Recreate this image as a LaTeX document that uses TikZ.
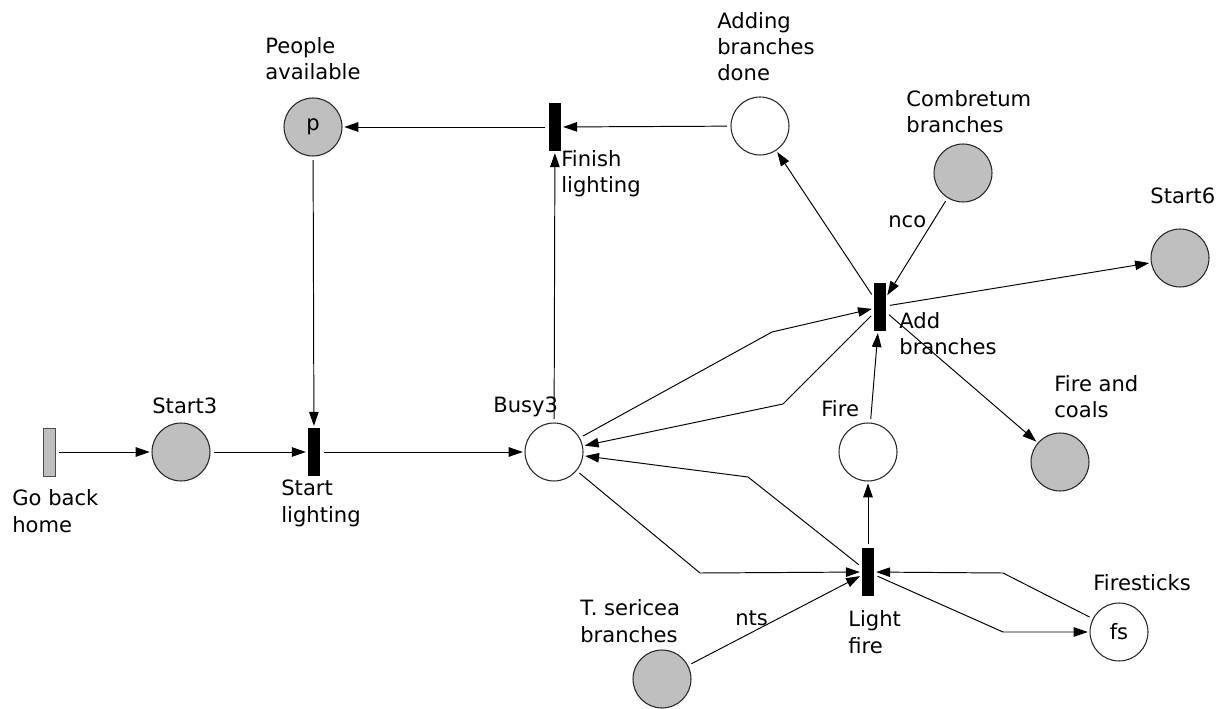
\documentclass[tikz,border=0pt]{standalone}
\usepackage{fontspec}
\setmainfont{DejaVu Sans}
\usetikzlibrary{arrows.meta,positioning}

\begin{document}
\begin{tikzpicture}[x=0.02cm,y=-0.02cm,
  font=\fontsize{12}{15}\selectfont,
  >={Triangle[length=2.8mm,width=1.9mm]},
  place/.style={circle,draw=black!85,line width=0.6pt,minimum size=1.16cm,inner sep=0pt},
  marked/.style={place,fill=black!25},
  trans/.style={rectangle,fill=black,minimum width=0.24cm,minimum height=0.96cm,inner sep=0pt},
  lbl/.style={anchor=base west,align=left,inner sep=0pt},
  arc/.style={->,line width=0.55pt,shorten <=2pt,shorten >=1pt}]
                \useasboundingbox (0,0) rectangle (1227,709);
                % places
                \node[marked] (start3) at (181,452) {};
                \node[marked] (ppl) at (313,127) {p};
                \node[place] (busy) at (554,452) {};
                \node[place] (done) at (760,126) {};
                \node[marked] (combr) at (963,173) {};
                \node[marked] (start6) at (1180,258) {};
                \node[marked] (coals) at (1060,462) {};
                \node[place] (fire) at (868,452) {};
                \node[place] (fs) at (1119,632) {fs};
                \node[marked] (tseric) at (662,679) {};
                % transitions
                \node[trans,fill=black!25,draw=black!70,line width=0.5pt] (gohome) at (49,452) {};
                \node[trans] (startlight) at (314,452) {};
                \node[trans] (finish) at (555,127) {};
                \node[trans] (addbr) at (880,307) {};
                \node[trans] (lightfire) at (868,572) {};
                % labels (base = last line)
                \node[lbl] (gohomelbl) at (12,532) {Go back\\home};
                \node[lbl] (start3lbl) at (152,414) {Start3};
                \node[lbl] (startlightlbl) at (281,522) {Start\\lighting};
                \node[lbl] (ppllbl) at (265,80) {People\\available};
                \node[lbl] (finishlbl) at (561,193) {Finish\\lighting};
                \node[lbl] (donelbl) at (717,81) {Adding\\branches\\done};
                \node[lbl] (busylbl) at (493,413) {Busy3};
                \node[lbl] (combrlbl) at (906,133) {Combretum\\branches};
                \node[lbl] (start6lbl) at (1150,204) {Start6};
                \node[lbl] (addbrlbl) at (899,355) {Add\\branches};
                \node[lbl] (coalslbl) at (1054,418) {Fire and\\coals};
                \node[lbl] (firelbl) at (821,417) {Fire};
                \node[lbl] (lightfirelbl) at (848,653) {Light\\fire};
                \node[lbl] (fslbl) at (1093,590) {Firesticks};
                \node[lbl] (tsericlbl) at (580,642) {T. sericea\\branches};
                \node[lbl] (nco) at (888,228) {nco};
                \node[lbl] (nts) at (735,625) {nts};
                % bend points
                \coordinate (b1) at (772,332);
                \coordinate (b2) at (783,404);
                \coordinate (b3) at (748,477);
                \coordinate (b4) at (700,573);
                \coordinate (b5) at (1003,573);
                \coordinate (b6) at (1003,632);
                % arcs
                \draw[arc] (gohome) -- (start3);
                \draw[arc] (start3) -- (startlight);
                \draw[arc] (ppl) -- (startlight);
                \draw[arc] (startlight) -- (busy);
                \draw[arc] (busy) -- (finish);
                \draw[arc] (done) -- (finish);
                \draw[arc] (finish) -- (ppl);
                \draw[arc] (addbr) -- (done);
                \draw[arc] (combr) -- (addbr);
                \draw[arc] (addbr) -- (start6);
                \draw[arc] (addbr) -- (coals);
                \draw[arc] (fire) -- (addbr);
                \draw[arc] (busy) -- (b1) -- (addbr);
                \draw[arc] (addbr) -- (b2) -- (busy);
                \draw[arc] (lightfire) -- (b3) -- (busy);
                \draw[arc] (busy) -- (b4) -- (lightfire);
                \draw[arc] (tseric) -- (lightfire);
                \draw[arc] (lightfire) -- (fire);
                \draw[arc] (fs) -- (b5) -- (lightfire);
                \draw[arc] (lightfire) -- (b6) -- (fs);
\end{tikzpicture}
\end{document}
